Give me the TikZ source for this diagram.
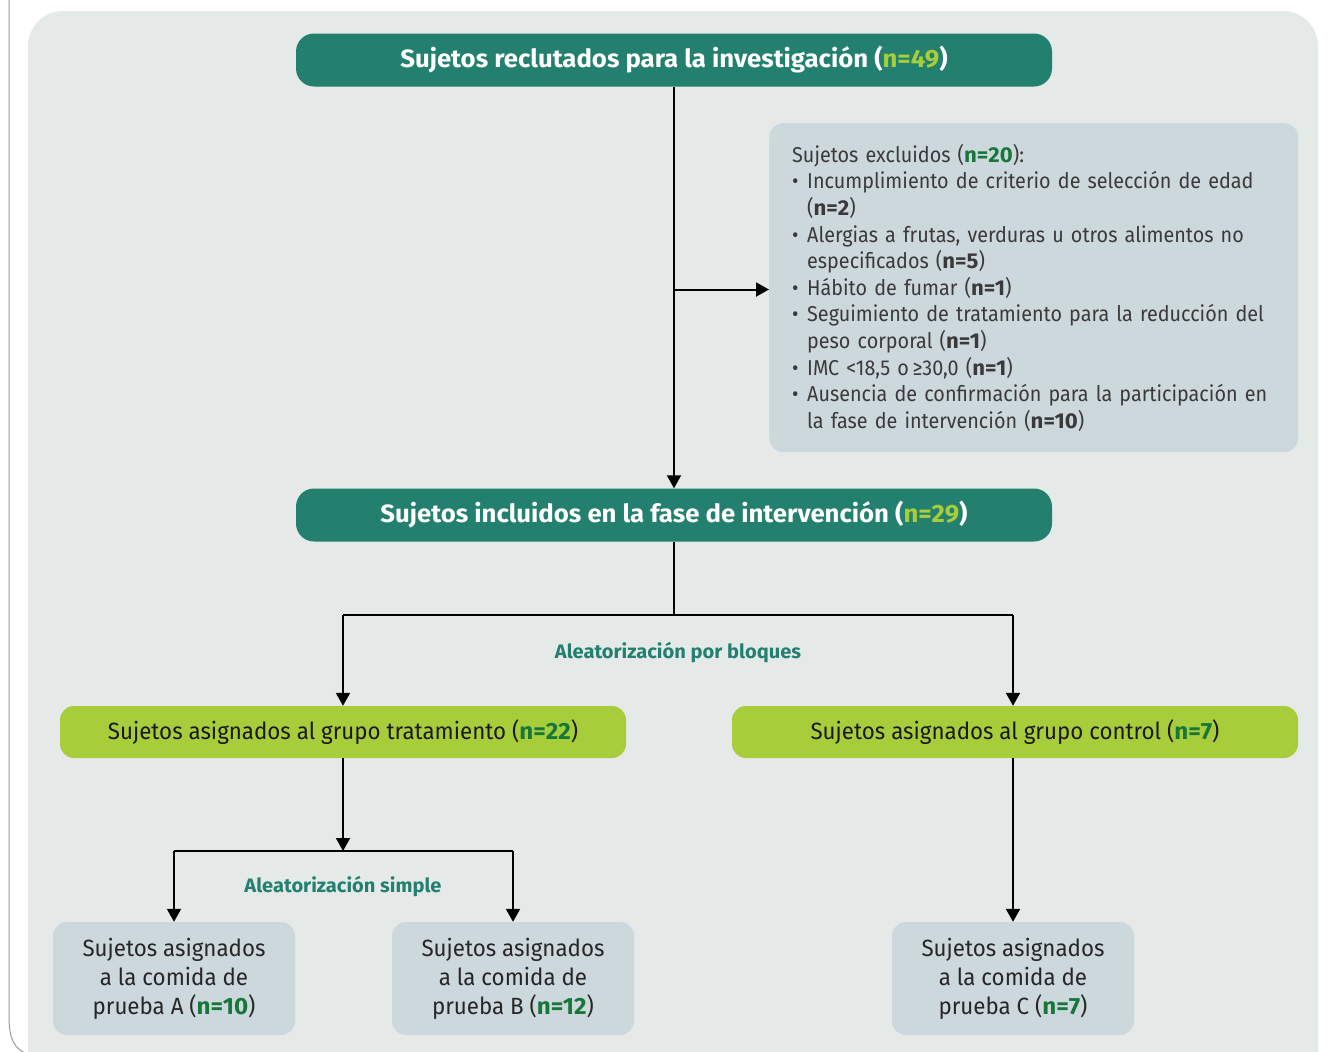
\documentclass[tikz,border=0pt]{standalone}
\usepackage{fontspec}
\setmainfont{Fira Sans}[FakeStretch=0.95, BoldFeatures={FakeStretch=1.03}]
\usepackage{xcolor}
\usetikzlibrary{positioning, arrows.meta, calc}

\definecolor{fondo}{HTML}{E5EAE9}
\definecolor{verdeazul}{HTML}{23806F}
\definecolor{lima}{HTML}{A8CD3A}
\definecolor{grisazul}{HTML}{CDD8DC}
\definecolor{verdeosc}{HTML}{17773A}
\definecolor{textogris}{HTML}{3A3A3A}

\newcommand\vineta{\makebox[15pt][l]{•}}
\newcommand\nverde[1]{\textcolor{verdeosc}{\textbf{n=#1}}}

\tikzset{
  cabecera/.style={fill=verdeazul, rounded corners=18pt, minimum width=756pt, minimum height=53pt,
    text=white, font=\fontsize{25}{30}\selectfont\bfseries},
  grupo/.style={fill=lima, rounded corners=14pt, minimum width=566pt, minimum height=52pt,
    text=black!90, font=\fontsize{23.5}{28}\selectfont},
  comida/.style={fill=grisazul, rounded corners=14pt, minimum width=242pt, minimum height=113pt,
    align=center, text=black!85, font=\fontsize{23.5}{29}\selectfont},
  flecha/.style={line width=2pt, -{Triangle[width=14pt,length=13pt]}},
  linea/.style={line width=2pt},
  etiqueta/.style={text=verdeazul, font=\fontsize{19.5}{22}\selectfont\bfseries},
}

\begin{document}
\begin{tikzpicture}[x=1pt, y=-1pt]
  \clip (0,0) rectangle (1328,1052);
  \useasboundingbox (0,0) rectangle (1328,1052);

  % fondo
  \fill[fondo, rounded corners=35pt] (28,1080) -- (28,11) -- (1318,11) -- (1318,1080);
  \draw[gray!80, line width=1pt] (9,-2) -- (9,1015) .. controls (9,1040) and (14,1048) .. (27,1054);

  % cajas principales
  \node[cabecera] (recl) at (674,60) {Sujetos reclutados para la investigación (\textcolor{lima}{n=49})};
  \node[cabecera] (incl) at (674,515) {Sujetos incluidos en la fase de intervención (\textcolor{lima}{n=29})};

  % excluidos
  \node[fill=grisazul, rounded corners=14pt, anchor=north west, minimum height=329pt,
        text width=483pt, inner xsep=23pt, align=left, text=textogris,
        font=\fontsize{21.5}{26.6}\selectfont\addfontfeature{FakeStretch=0.92}] (excl) at (769,123) {%
    Sujetos excluidos (\nverde{20}):\\
    \vineta Incumplimiento de criterio de selección de edad\\
    \hspace*{15pt}(\textbf{n=2})\\
    \vineta Alergias a frutas, verduras u otros alimentos no\\
    \hspace*{15pt}especificados (\textbf{n=5})\\
    \vineta Hábito de fumar (\textbf{n=1})\\
    \vineta Seguimiento de tratamiento para la reducción del\\
    \hspace*{15pt}peso corporal (\textbf{n=1})\\
    \vineta IMC <18,5 o\,≥30,0 (\textbf{n=1})\\
    \vineta Ausencia de confirmación para la participación en\\
    \hspace*{15pt}la fase de intervención (\textbf{n=10})};

  % grupos
  \node[grupo] (trat) at (343,732) {Sujetos asignados al grupo tratamiento (\nverde{22})};
  \node[grupo] (ctrl) at (1015,732) {Sujetos asignados al grupo control (\nverde{7})};

  % comidas de prueba
  \foreach \nom/\x/\letra/\n in {pa/174/A/10, pb/513/B/12, pc/1013/C/7} {
    \node[comida] (\nom) at (\x,978.5) {Sujetos asignados\\a la comida de\\prueba \letra\ (\nverde{\n})};
  }

  % conectores
  \draw[flecha] (recl.south) -- (incl.north);
  \coordinate (ramal) at ($(recl.south)!0.505!(incl.north)$);
  \draw[flecha] (ramal) -- (ramal -| excl.west);

  \coordinate (bloq) at (674,615);
  \draw[linea] (incl.south) -- (bloq);
  \draw[linea] (bloq -| trat.north) -- (bloq -| pc.north);
  \draw[flecha] (bloq -| trat.north) -- (trat.north);
  \draw[flecha] (bloq -| pc.north) -- (ctrl.north -| pc.north);
  \node[etiqueta] (lbloq) at (678,653) {Aleatorización por bloques};

  \coordinate (simp) at (343,851);
  \draw[flecha] (trat.south) -- (simp);
  \draw[linea] (simp -| pa.north) -- (simp -| pb.north);
  \foreach \nom in {pa, pb} {
    \draw[flecha] (simp -| \nom.north) -- (\nom.north);
  }
  \node[etiqueta] (lsimp) at (343,887) {Aleatorización simple};
  \draw[flecha] (ctrl.south -| pc.north) -- (pc.north);
\end{tikzpicture}
\end{document}
